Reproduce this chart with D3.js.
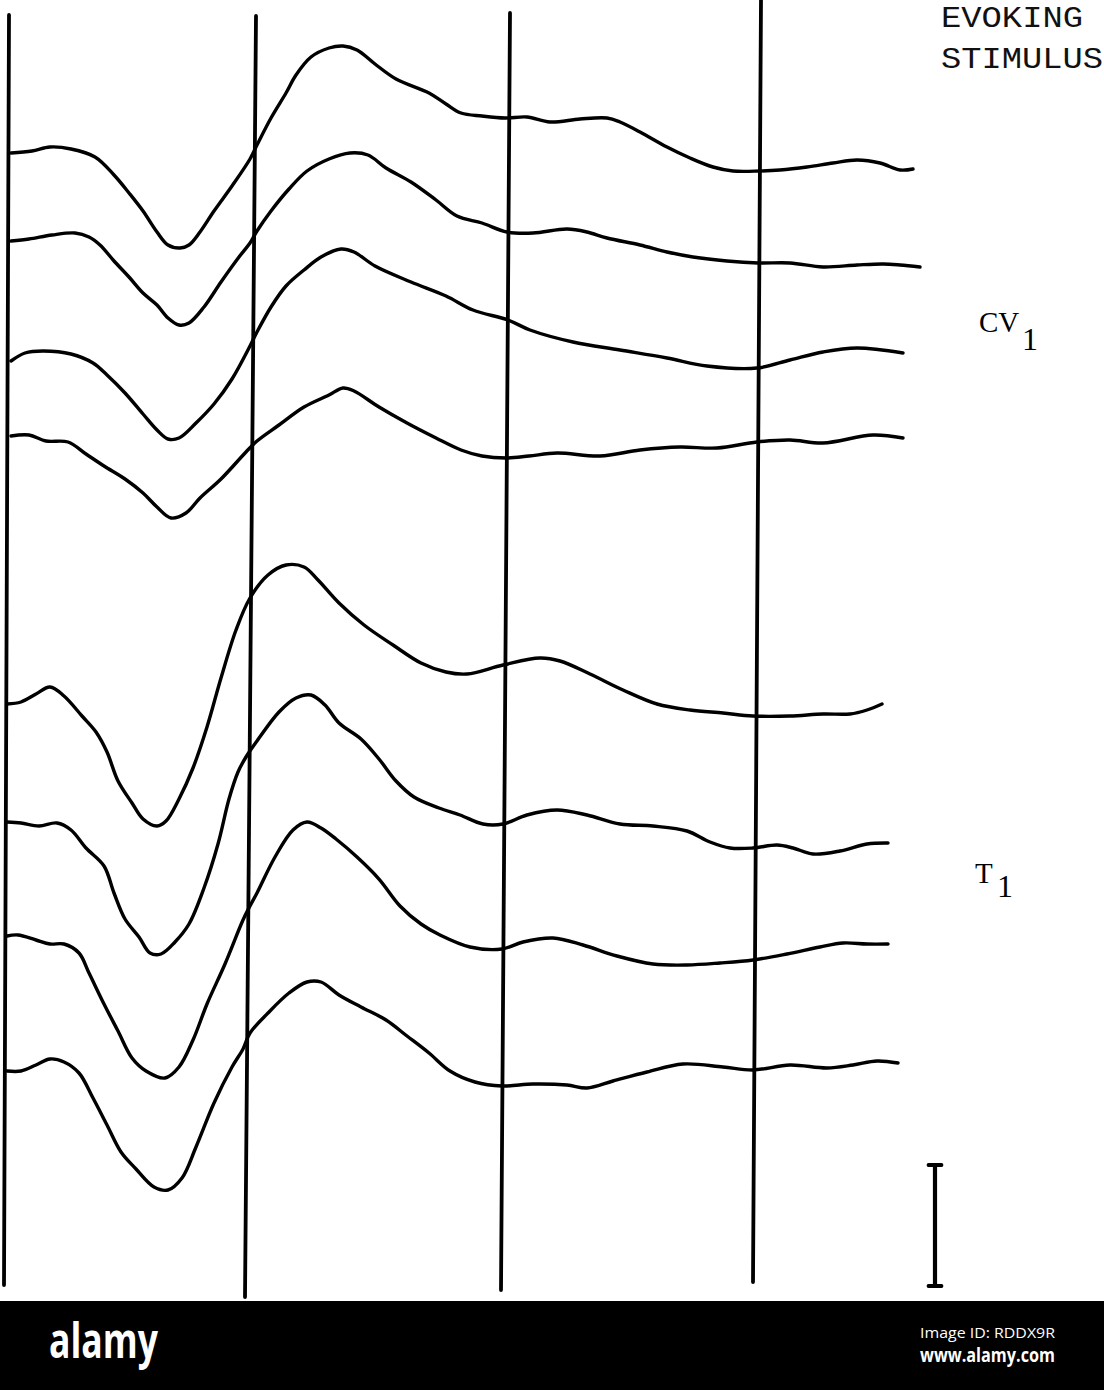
<!DOCTYPE html>
<html>
<head>
<meta charset="utf-8">
<script src="https://cdn.jsdelivr.net/npm/d3@7"></script>
<style>
  html, body { margin: 0; padding: 0; background: #fff; }
  svg { display: block; }
</style>
</head>
<body>
<svg id="chart" width="1104" height="1390"></svg>
<script>
// ---- DATA (time in ms, amplitude in arbitrary units; positive = up) ----
const traceNames = ["CV1 a", "CV1 b", "CV1 c", "CV1 d", "T1 a", "T1 b", "T1 c", "T1 d"];
const traceOffsets = [-15.3, -24.1, -36.1, -43.6, -70.4, -82.2, -93.6, -107.1];

const trace1 = [[0.4,0],[2.5,0.2],[4.3,0.6],[6.4,0.4],[8.8,-0.4],[10.7,-2.2],[12.2,-4.0],[13.6,-5.8],[15.0,-7.9],[16.1,-9.2],[17.3,-9.5],[18.2,-9.2],[19.3,-7.9],[20.7,-5.8],[22.5,-3.3],[24.3,-0.6],[25.0,0.8],[26.4,3.5],[27.9,6.0],[28.9,7.8],[30.4,9.6],[32.2,10.5],[33.6,10.7],[35.0,10.3],[36.8,8.9],[38.9,7.4],[42.2,6.0],[43.9,4.9],[45.4,4.0],[47.5,3.7],[49.8,3.5],[52.0,3.6],[54.3,3.1],[57.3,3.4],[60.0,3.5],[61.3,3.1],[63.3,2.1],[66.0,0.6],[68.3,-0.5],[70.6,-1.4],[72.6,-1.8],[75.3,-1.8],[77.3,-1.7],[80.0,-1.4],[82.6,-1.0],[85.0,-0.7],[87.3,-1.0],[89.3,-1.7],[90.6,-1.6]];
const trace2 = [[0.4,0],[2.2,0.2],[4.5,0.6],[6.8,0.8],[8.2,0.4],[9.3,-0.4],[10.7,-2.0],[12.2,-3.6],[13.6,-5.2],[15.0,-6.4],[16.1,-7.7],[17.2,-8.4],[18.2,-8.2],[19.7,-6.6],[21.4,-4.1],[23.2,-1.6],[24.3,-0.2],[25.0,1.0],[26.4,3.0],[28.2,5.2],[30.0,7.0],[32.2,8.2],[34.3,8.8],[36.1,8.6],[37.9,7.3],[40.4,5.9],[42.9,4.1],[45.0,2.5],[47.5,1.8],[50.0,0.9],[52.6,0.8],[56.0,1.2],[58.0,0.9],[60.0,0.3],[63.3,-0.4],[66.0,-1.1],[68.6,-1.6],[72.0,-2.0],[75.1,-2.2],[78.3,-2.2],[81.6,-2.6],[85.0,-2.4],[87.6,-2.3],[89.3,-2.4],[91.3,-2.6]];
const trace3 = [[0.4,0],[1.8,0.8],[3.6,1.0],[6.4,0.7],[8.6,-0.2],[10.0,-1.4],[11.8,-3.2],[13.6,-5.3],[15.0,-6.9],[16.1,-7.8],[17.2,-7.7],[18.9,-6.2],[20.7,-4.3],[22.5,-1.8],[24.3,1.5],[25.0,2.9],[26.4,5.4],[27.9,7.5],[29.7,9.1],[31.4,10.4],[33.4,11.2],[34.7,10.9],[36.8,9.5],[40.4,7.9],[43.9,6.5],[46.6,5.1],[50.1,4.1],[52.3,3.1],[56.6,1.9],[61.3,1.1],[66.0,0.3],[70.0,-0.5],[75.0,-0.7],[78.3,0.1],[81.6,0.9],[85.0,1.3],[89.6,0.8]];
const trace4 = [[0.4,0],[2.2,0.1],[3.9,-0.5],[6.1,-0.6],[7.9,-1.8],[9.7,-3.0],[11.8,-4.3],[13.6,-5.7],[15.0,-7.1],[16.4,-8.2],[17.9,-7.7],[19.3,-6.2],[21.4,-4.3],[23.9,-1.6],[25.0,-0.5],[27.2,1.1],[29.7,2.9],[32.2,4.1],[33.6,4.8],[34.7,4.5],[37.2,2.9],[40.0,1.3],[42.9,-0.2],[45.4,-1.4],[47.5,-2.0],[50.0,-2.2],[52.2,-2.0],[55.0,-1.7],[59.3,-2.0],[63.3,-1.4],[67.3,-1.1],[71.0,-1.2],[75.0,-0.6],[78.3,-0.4],[81.6,-0.7],[86.6,0.1],[89.6,-0.2]];
const trace5 = [[0,0],[1.4,0.2],[2.9,1.0],[4.3,1.7],[5.7,0.8],[7.5,-1.2],[8.9,-2.8],[10.0,-4.8],[11.1,-7.7],[12.5,-9.9],[13.6,-11.5],[15.0,-12.2],[15.9,-11.7],[17.2,-9.5],[18.6,-6.4],[20.0,-2.3],[21.4,2.6],[22.9,7.4],[24.3,10.6],[26.1,12.9],[27.9,13.9],[29.7,13.7],[31.1,12.4],[33.2,10.1],[35.7,7.9],[38.6,5.9],[41.4,4.1],[43.9,3.2],[46.0,3.0],[49.6,3.9],[53.3,4.6],[55.3,4.3],[58.3,3.0],[61.6,1.4],[65.0,0],[68.3,-0.6],[71.6,-0.9],[74.6,-1.2],[78.3,-1.2],[81.6,-1.0],[84.3,-1.0],[86.0,-0.6],[87.5,0]];
const trace6 = [[0,0],[1.4,-0.1],[3.2,-0.4],[5.0,-0.1],[6.4,-0.8],[7.9,-2.6],[9.7,-4.4],[10.7,-7.1],[11.8,-9.7],[13.2,-11.5],[14.3,-13.1],[15.4,-13.2],[16.8,-12.0],[18.2,-10.2],[19.7,-6.6],[21.1,-2.2],[22.2,2.3],[23.1,5.0],[23.9,6.5],[25.0,8.1],[27.2,11.0],[28.9,12.4],[30.4,12.7],[31.8,11.7],[33.2,9.9],[35.4,8.3],[37.2,6.3],[38.9,4.1],[40.7,2.5],[43.2,1.4],[45.3,0.7],[47.6,-0.2],[49.6,-0.2],[52.0,0.7],[55.0,1.2],[58.0,0.7],[61.3,-0.2],[64.6,-0.4],[68.0,-0.9],[70.3,-2.0],[72.3,-2.6],[74.6,-2.6],[77.0,-2.3],[78.6,-2.6],[80.6,-3.2],[83.3,-2.9],[86.0,-2.2],[88.1,-2.1]];
const trace7 = [[0,0],[1.1,0.1],[2.9,-0.4],[4.3,-0.8],[5.7,-0.8],[7.2,-1.7],[8.2,-3.7],[9.7,-6.8],[11.1,-9.5],[12.5,-12.2],[13.9,-13.5],[15.8,-14.2],[17.2,-13.1],[18.6,-10.4],[20.0,-6.8],[21.8,-2.8],[23.6,1.6],[24.3,3.0],[25.0,4.3],[26.8,7.9],[28.6,10.6],[30.0,11.4],[31.4,10.8],[32.9,9.7],[35.0,7.9],[37.2,5.7],[39.3,3.0],[41.4,1.2],[43.3,0.1],[46.3,-1.1],[49.5,-1.3],[51.6,-0.6],[54.6,-0.2],[57.6,-0.9],[61.0,-2.0],[64.6,-2.8],[68.0,-2.9],[71.3,-2.7],[74.6,-2.4],[78.0,-1.8],[81.3,-1.1],[83.6,-0.7],[86.0,-0.8],[88.1,-0.8]];
const trace8 = [[0,0],[1.4,0],[2.9,0.6],[4.3,1.2],[5.7,0.9],[7.2,-0.2],[8.6,-2.7],[10.0,-5.4],[11.4,-8.1],[12.9,-9.8],[14.7,-11.6],[16.1,-11.9],[17.5,-10.7],[18.9,-7.6],[20.7,-3.2],[22.5,0.4],[23.6,2.2],[24.3,3.8],[26.1,5.8],[28.2,7.8],[30.0,8.9],[31.4,8.9],[33.2,7.6],[35.4,6.4],[37.9,5.1],[40.0,3.5],[42.2,1.8],[44.3,0],[46.8,-1.1],[49.5,-1.5],[52.6,-1.3],[56.0,-1.4],[58.0,-1.7],[60.6,-1.0],[64.0,-0.1],[67.6,0.7],[71.6,0.4],[74.6,0.1],[78.3,0.6],[82.0,0.3],[84.6,0.6],[87.0,1.0],[89.1,0.8]];
const traces = [trace1, trace2, trace3, trace4, trace5, trace6, trace7, trace8];

// time markers (ms) - slightly tilted in the original scan
const markerTimesTop    = [0.2, 24.9, 50.3, 75.4];
const markerTimesBottom = [-0.3, 23.8, 49.4, 74.6];
const markerLevelTop    = [-1.5, -1.6, -1.3, 0];
const markerLevelBottom = [-128.5, -129.7, -129.0, -128.2];

// calibration bar
const calTime = 92.8;
const calFrom = -116.5;
const calTo = -128.6;

// ---- SCALES ----
const x = d3.scaleLinear().domain([0, 100]).range([7, 1007]);
const y = d3.scaleLinear().domain([0, -130]).range([0, 1300]);

const svg = d3.select("#chart");
svg.append("rect").attr("width", 1104).attr("height", 1390).attr("fill", "#ffffff");

// marker lines
svg.append("g").selectAll("line")
  .data(markerTimesTop.map((t, i) => ({t0: t, t1: markerTimesBottom[i], l0: markerLevelTop[i], l1: markerLevelBottom[i]})))
  .join("line")
  .attr("x1", d => x(d.t0)).attr("y1", d => y(d.l0))
  .attr("x2", d => x(d.t1)).attr("y2", d => y(d.l1))
  .attr("stroke", "#000").attr("stroke-width", 3.8).attr("stroke-linecap", "round");

// traces
const gT = svg.append("g");
traces.forEach((tr, i) => {
  const off = traceOffsets[i];
  const line = d3.line()
    .x(d => x(d[0]))
    .y(d => y(off + d[1]))
    .curve(d3.curveCatmullRom.alpha(0.5));
  gT.append("path")
    .datum(tr)
    .attr("d", line)
    .attr("fill", "none")
    .attr("stroke", "#000")
    .attr("stroke-width", 3.4)
    .attr("stroke-linejoin", "round")
    .attr("stroke-linecap", "round")
    .attr("data-name", traceNames[i]);
});

// calibration bar
const gC = svg.append("g");
gC.append("line")
  .attr("x1", x(calTime)).attr("x2", x(calTime))
  .attr("y1", y(calFrom)).attr("y2", y(calTo))
  .attr("stroke", "#000").attr("stroke-width", 4.2);
[calFrom, calTo].forEach(v => {
  gC.append("line")
    .attr("x1", x(calTime - 0.65)).attr("x2", x(calTime + 0.65))
    .attr("y1", y(v)).attr("y2", y(v))
    .attr("stroke", "#000").attr("stroke-width", 3.8).attr("stroke-linecap", "round");
});

// labels
const mono = "'Liberation Mono', 'DejaVu Sans Mono', monospace";
const serif = "'Liberation Serif', 'DejaVu Serif', serif";
svg.append("text").attr("x", x(93.4)).attr("y", y(-2.7))
  .attr("font-family", mono).attr("font-size", 30).attr("fill", "#111")
  .attr("textLength", 142).attr("lengthAdjust", "spacingAndGlyphs")
  .text("EVOKING");
svg.append("text").attr("x", x(93.4)).attr("y", y(-6.8))
  .attr("font-family", mono).attr("font-size", 30).attr("fill", "#111")
  .attr("textLength", 162).attr("lengthAdjust", "spacingAndGlyphs")
  .text("STIMULUS");

const cv = svg.append("text").attr("font-family", serif).attr("fill", "#000");
cv.append("tspan").attr("x", x(97.2)).attr("y", y(-33.2)).attr("font-size", 29).text("CV");
cv.append("tspan").attr("x", x(101.5)).attr("y", y(-35.0)).attr("font-size", 32).text("1");

const tl = svg.append("text").attr("font-family", serif).attr("fill", "#000");
tl.append("tspan").attr("x", x(96.8)).attr("y", y(-88.3)).attr("font-size", 29).text("T");
tl.append("tspan").attr("x", x(99.0)).attr("y", y(-89.7)).attr("font-size", 32).text("1");

// watermark banner
svg.append("rect").attr("x", 0).attr("y", 1301).attr("width", 1104).attr("height", 89).attr("fill", "#000");
svg.append("text").attr("x", 49).attr("y", 1358)
  .attr("font-family", "'Open Sans', 'Noto Sans', sans-serif").attr("font-weight", 700)
  .attr("font-size", 48).attr("fill", "#fff")
  .attr("textLength", 109).attr("lengthAdjust", "spacingAndGlyphs")
  .text("alamy");
svg.append("text").attr("x", 1055).attr("y", 1338).attr("text-anchor", "end")
  .attr("font-family", "'Open Sans', 'Noto Sans', sans-serif")
  .attr("font-size", 15).attr("fill", "#fff")
  .attr("textLength", 135).attr("lengthAdjust", "spacingAndGlyphs")
  .text("Image ID: RDDX9R");
svg.append("text").attr("x", 1055).attr("y", 1362).attr("text-anchor", "end")
  .attr("font-family", "'Open Sans', 'Noto Sans', sans-serif").attr("font-weight", 700)
  .attr("font-size", 19).attr("fill", "#fff")
  .attr("textLength", 135).attr("lengthAdjust", "spacingAndGlyphs")
  .text("www.alamy.com");
</script>
</body>
</html>
